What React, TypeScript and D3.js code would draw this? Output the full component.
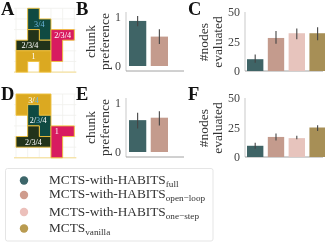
import React from "react";
import * as d3 from "d3";

const FONT = "'Liberation Serif', serif";

// ---- data ----
const methods = ["full", "open\u2212loop", "one\u2212step", "vanilla"];
const legendPrefix = ["MCTS-with-HABITS", "MCTS-with-HABITS", "MCTS-with-HABITS", "MCTS"];
const barColors = ["#3f6466", "#c49b8d", "#e7c4bd", "#a78f56"];
const dotColors = ["#3c666a", "#cf9c8d", "#ecc0bb", "#b99b50"];

const prefB = [0.92, 0.6];
const prefBLo = [0.81, 0.45];
const prefBHi = [1.02, 0.75];
const prefE = [0.65, 0.7];
const prefELo = [0.48, 0.54];
const prefEHi = [0.8, 0.83];

const nodesC = [10, 28, 32, 32];
const nodesCLo = [7, 23, 27, 26];
const nodesCHi = [14, 34, 36, 37];
const nodesF = [9.5, 17, 16, 25];
const nodesFLo = [7, 14, 15, 22];
const nodesFHi = [12, 20, 18, 27];

type Pt = [number, number];
const boardAShapes: { fill: string; pts: Pt[] }[] = [
  { fill: "#0f4a42", pts: [[1, 0], [2, 0], [2, 1], [3, 1], [3, 3], [2, 3], [2, 2], [1, 2]] },
  { fill: "#22331a", pts: [[1, 2], [2, 2], [2, 3], [3, 3], [3, 4], [0, 4], [0, 3], [1, 3]] },
  { fill: "#dba921", pts: [[0, 4], [3, 4], [3, 6], [2, 6], [2, 5], [1, 5], [1, 6], [0, 6]] },
  { fill: "#d81b60", pts: [[3, 2], [5, 2], [5, 3], [4, 3], [4, 5], [3, 5]] },
];
const boardDShapes: { fill: string; pts: Pt[] }[] = [
  { fill: "#dba921", pts: [[0, 0], [3, 0], [3, 2], [2, 2], [2, 1], [1, 1], [1, 2], [0, 2]] },
  { fill: "#0f4a42", pts: [[1, 1], [2, 1], [2, 2], [3, 2], [3, 4], [2, 4], [2, 3], [1, 3]] },
  { fill: "#22331a", pts: [[1, 3], [2, 3], [2, 4], [3, 4], [3, 5], [0, 5], [0, 4], [1, 4]] },
  { fill: "#d81b60", pts: [[3, 3], [5, 3], [5, 4], [4, 4], [4, 6], [3, 6]] },
];
const WHITE = "#ffffff";
const BLUE = "#6fb7e0";
type Lab = { c: number; r: number; parts: [string, string][] };
const boardALabels: Lab[] = [
  { c: 2, r: 1.5, parts: [["3/4", BLUE]] },
  { c: 1.2, r: 3.5, parts: [["2/3/4", WHITE]] },
  { c: 1.5, r: 4.5, parts: [["1", WHITE]] },
  { c: 4, r: 2.5, parts: [["2/3/4", WHITE]] },
];
const boardDLabels: Lab[] = [
  { c: 1.5, r: 0.55, parts: [["3/", WHITE], ["4", BLUE]] },
  { c: 1.9, r: 2.5, parts: [["2/", WHITE], ["3", BLUE], ["/4", WHITE]] },
  { c: 1.5, r: 4.5, parts: [["2/3/4", WHITE]] },
  { c: 3.5, r: 3.5, parts: [["1", WHITE]] },
];

const prefTicks = [0, 1];
const nodeTicks = [0, 25, 50];

// ---- components ----
function Board({ top, shapes, labels }: { top: number; shapes: typeof boardAShapes; labels: Lab[] }) {
  const x = d3.scaleLinear().domain([0, 5]).range([16, 74.3]);
  const y = d3.scaleLinear().domain([0, 6]).range([top, top + 63.8]);
  const line = d3.line<Pt>().x((d) => x(d[0])).y((d) => y(d[1])).curve(d3.curveLinearClosed);
  return (
    <g>
      {d3.range(0, 6).map((c) => (
        <line key={"c" + c} x1={x(c)} x2={x(c)} y1={y(0)} y2={y(6)} stroke="#f0f0ec" strokeWidth={0.8} />
      ))}
      {d3.range(0, 7).map((r) => (
        <line key={"r" + r} x1={x(0) - 2} x2={x(5) + 2} y1={y(r)} y2={y(r)} stroke="#f0f0ec" strokeWidth={0.8} />
      ))}
      <line x1={x(0) - 2} x2={x(5) + 2} y1={y(6)} y2={y(6)} stroke="#f5dc8c" strokeWidth={1} />
      {shapes.map((s, i) => (
        <path key={i} d={line(s.pts) ?? ""} fill={s.fill} stroke="#f0c23c" strokeWidth={0.9} strokeLinejoin="miter" />
      ))}
      {labels.map((l, i) => (
        <text key={i} x={x(l.c)} y={y(l.r)} dy="0.34em" textAnchor="middle" fontFamily={FONT} fontSize={8.2} fill={WHITE}>
          {l.parts.map((p, j) => (
            <tspan key={j} fill={p[1]}>{p[0]}</tspan>
          ))}
        </text>
      ))}
    </g>
  );
}

function Bars({
  left, right, bandL, top0, top1, axisTop, axisBottom, domain, ticks, values, lo, hi, bw, step, tickX,
}: {
  left: number; right: number; bandL: number; top0: number; top1: number; axisTop: number; axisBottom: number;
  domain: [number, number]; ticks: number[]; values: number[]; lo: number[]; hi: number[]; bw: number; step: number; tickX: number;
}) {
  const y = d3.scaleLinear().domain(domain).range([top0, top1]);
  const xs = d3.scaleBand<number>().domain(d3.range(values.length)).range([bandL, bandL + step * values.length]).paddingInner(1 - bw / step).paddingOuter(0);
  return (
    <g>
      <line x1={left} x2={left} y1={axisTop} y2={axisBottom} stroke="#c9c9c9" strokeWidth={1} />
      <line x1={left} x2={right} y1={axisBottom} y2={axisBottom} stroke="#8a8a8a" strokeWidth={0.8} />
      {ticks.map((t) => (
        <text key={t} x={tickX} y={y(t)} dy="0.34em" textAnchor="end" fontFamily={FONT} fontSize={12} fill="#444">{t}</text>
      ))}
      {values.map((v, i) => {
        const xp = xs(i) as number;
        const w = xs.bandwidth();
        return (
          <g key={i}>
            <rect x={xp} y={y(v)} width={w} height={y(domain[0]) - y(v)} fill={barColors[i]} />
            <line x1={xp + w / 2} x2={xp + w / 2} y1={y(lo[i])} y2={y(hi[i])} stroke="#444" strokeWidth={1.1} />
          </g>
        );
      })}
    </g>
  );
}

function RotLabel({ x, y, text }: { x: number; y: number; text: string }) {
  return (
    <text transform={`translate(${x},${y}) rotate(-90)`} textAnchor="middle" fontFamily={FONT} fontSize={13.5} fill="#333">{text}</text>
  );
}

function Letter({ x, y, t }: { x: number; y: number; t: string }) {
  return <text x={x} y={y} fontFamily={FONT} fontWeight="bold" fontSize={18.5} fill="#111">{t}</text>;
}

export default function App() {
  const legendY = [184, 198.3, 216, 232.3];
  const dotY = [180.5, 195, 212, 228.5];
  return (
    <svg width={325} height={242} style={{ position: "absolute", left: 0, top: 0, background: "#fff", filter: "blur(0.3px)" }}>
      <Board top={8.3} shapes={boardAShapes} labels={boardALabels} />
      <Board top={94} shapes={boardDShapes} labels={boardDLabels} />

      <Letter x={1} y={15} t="A" />
      <Letter x={76} y={15} t="B" />
      <Letter x={188} y={15} t="C" />
      <Letter x={1} y={100} t="D" />
      <Letter x={76} y={100} t="E" />
      <Letter x={188} y={100} t="F" />

      <RotLabel x={95} y={41.5} text="chunk" />
      <RotLabel x={108.5} y={41.5} text="preference" />
      <RotLabel x={95} y={127.5} text="chunk" />
      <RotLabel x={108.5} y={127.5} text="preference" />
      <RotLabel x={208} y={42} text="#nodes" />
      <RotLabel x={222} y={42} text="evaluated" />
      <RotLabel x={208} y={128} text="#nodes" />
      <RotLabel x={222} y={128} text="evaluated" />

      <Bars left={126} right={184} bandL={129} top0={66} top1={17} axisTop={12} axisBottom={71} domain={[0, 1]} ticks={prefTicks}
        values={prefB} lo={prefBLo} hi={prefBHi} bw={15.5} step={19.5} tickX={121} />
      <Bars left={126} right={184} bandL={129} top0={152} top1={103} axisTop={98} axisBottom={157} domain={[0, 1]} ticks={prefTicks}
        values={prefE} lo={prefELo} hi={prefEHi} bw={15.5} step={19.5} tickX={121} />
      <Bars left={245} right={323} bandL={247} top0={71} top1={12} axisTop={12} axisBottom={71} domain={[0, 50]} ticks={nodeTicks}
        values={nodesC} lo={nodesCLo} hi={nodesCHi} bw={15.5} step={19.7} tickX={240} />
      <Bars left={245} right={323} bandL={247} top0={157} top1={98} axisTop={98} axisBottom={157} domain={[0, 50]} ticks={nodeTicks}
        values={nodesF} lo={nodesFLo} hi={nodesFHi} bw={15.5} step={19.7} tickX={240} />

      <rect x={5.5} y={168.5} width={207.5} height={72.5} rx={2} fill="#fff" stroke="#e2e2e2" strokeWidth={0.9} />
      {methods.map((m, i) => (
        <g key={m}>
          <circle cx={24} cy={dotY[i]} r={4.2} fill={dotColors[i]} />
          <text x={49} y={legendY[i]} fontFamily={FONT} fontSize={13.3} fill="#333">
            {legendPrefix[i]}
            <tspan fontSize={9.2} dy={3}>{m}</tspan>
          </text>
        </g>
      ))}
    </svg>
  );
}
